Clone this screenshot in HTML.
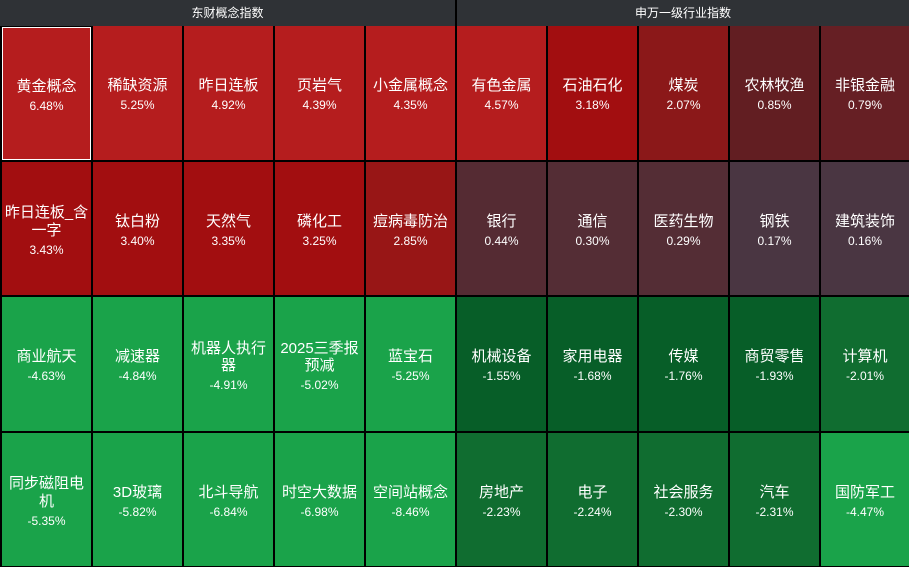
<!DOCTYPE html>
<html><head><meta charset="utf-8">
<style>
html,body{margin:0;padding:0;}
body{width:909px;height:567px;background:#000;position:relative;overflow:hidden;font-family:"Liberation Sans","Noto Sans CJK SC",sans-serif;color:#fff;}
.hd{position:absolute;top:0;height:26px;background:#2f3236;font-size:12px;line-height:26px;text-align:center;}
.c{position:absolute;display:flex;flex-direction:column;justify-content:center;align-items:center;text-align:center;box-sizing:border-box;padding:6px 2px 0 2px;}
.n{font-size:15px;line-height:17.5px;word-break:break-all;}
.p{font-size:12px;line-height:17.5px;margin-top:2.5px;}
.sel{border:1px solid #fff;}
</style></head><body>
<div class="hd" style="left:0;width:455px;">东财概念指数</div>
<div class="hd" style="left:457px;width:452px;">申万一级行业指数</div>

<!-- Row 1 -->
<div class="c sel" style="left:2px;top:27px;width:89px;height:133px;background:#b51d1e;"><div class="n">黄金概念</div><div class="p">6.48%</div></div>
<div class="c" style="left:93px;top:26px;width:89px;height:134px;background:#b51d1e;"><div class="n">稀缺资源</div><div class="p">5.25%</div></div>
<div class="c" style="left:184px;top:26px;width:89px;height:134px;background:#b51d1e;"><div class="n">昨日连板</div><div class="p">4.92%</div></div>
<div class="c" style="left:275px;top:26px;width:89px;height:134px;background:#b51d1e;"><div class="n">页岩气</div><div class="p">4.39%</div></div>
<div class="c" style="left:366px;top:26px;width:89px;height:134px;background:#b51d1e;"><div class="n">小金属概念</div><div class="p">4.35%</div></div>
<div class="c" style="left:457px;top:26px;width:89px;height:134px;background:#b51d1e;"><div class="n">有色金属</div><div class="p">4.57%</div></div>
<div class="c" style="left:548px;top:26px;width:89px;height:134px;background:#a20e10;"><div class="n">石油石化</div><div class="p">3.18%</div></div>
<div class="c" style="left:639px;top:26px;width:89px;height:134px;background:#8b1819;"><div class="n">煤炭</div><div class="p">2.07%</div></div>
<div class="c" style="left:730px;top:26px;width:89px;height:134px;background:#621e22;"><div class="n">农林牧渔</div><div class="p">0.85%</div></div>
<div class="c" style="left:821px;top:26px;width:88px;height:134px;background:#661f24;"><div class="n">非银金融</div><div class="p">0.79%</div></div>

<!-- Row 2 -->
<div class="c" style="left:2px;top:162px;width:89px;height:133px;background:#a20e10;"><div class="n">昨日连板_含一字</div><div class="p">3.43%</div></div>
<div class="c" style="left:93px;top:162px;width:89px;height:133px;background:#a20e10;"><div class="n">钛白粉</div><div class="p">3.40%</div></div>
<div class="c" style="left:184px;top:162px;width:89px;height:133px;background:#a20e10;"><div class="n">天然气</div><div class="p">3.35%</div></div>
<div class="c" style="left:275px;top:162px;width:89px;height:133px;background:#a20e10;"><div class="n">磷化工</div><div class="p">3.25%</div></div>
<div class="c" style="left:366px;top:162px;width:89px;height:133px;background:#981616;"><div class="n">痘病毒防治</div><div class="p">2.85%</div></div>
<div class="c" style="left:457px;top:162px;width:89px;height:133px;background:#552b33;"><div class="n">银行</div><div class="p">0.44%</div></div>
<div class="c" style="left:548px;top:162px;width:89px;height:133px;background:#542d35;"><div class="n">通信</div><div class="p">0.30%</div></div>
<div class="c" style="left:639px;top:162px;width:89px;height:133px;background:#542d35;"><div class="n">医药生物</div><div class="p">0.29%</div></div>
<div class="c" style="left:730px;top:162px;width:89px;height:133px;background:#4a3642;"><div class="n">钢铁</div><div class="p">0.17%</div></div>
<div class="c" style="left:821px;top:162px;width:88px;height:133px;background:#4a3642;"><div class="n">建筑装饰</div><div class="p">0.16%</div></div>

<!-- Row 3 -->
<div class="c" style="left:2px;top:297px;width:89px;height:134px;background:#1aa34a;"><div class="n">商业航天</div><div class="p">-4.63%</div></div>
<div class="c" style="left:93px;top:297px;width:89px;height:134px;background:#1aa34a;"><div class="n">减速器</div><div class="p">-4.84%</div></div>
<div class="c" style="left:184px;top:297px;width:89px;height:134px;background:#1aa34a;"><div class="n">机器人执行器</div><div class="p">-4.91%</div></div>
<div class="c" style="left:275px;top:297px;width:89px;height:134px;background:#1aa34a;"><div class="n">2025三季报预减</div><div class="p">-5.02%</div></div>
<div class="c" style="left:366px;top:297px;width:89px;height:134px;background:#1aa34a;"><div class="n">蓝宝石</div><div class="p">-5.25%</div></div>
<div class="c" style="left:457px;top:297px;width:89px;height:134px;background:#075e28;"><div class="n">机械设备</div><div class="p">-1.55%</div></div>
<div class="c" style="left:548px;top:297px;width:89px;height:134px;background:#075e28;"><div class="n">家用电器</div><div class="p">-1.68%</div></div>
<div class="c" style="left:639px;top:297px;width:89px;height:134px;background:#075e28;"><div class="n">传媒</div><div class="p">-1.76%</div></div>
<div class="c" style="left:730px;top:297px;width:89px;height:134px;background:#075e28;"><div class="n">商贸零售</div><div class="p">-1.93%</div></div>
<div class="c" style="left:821px;top:297px;width:88px;height:134px;background:#106d30;"><div class="n">计算机</div><div class="p">-2.01%</div></div>

<!-- Row 4 -->
<div class="c" style="left:2px;top:433px;width:89px;height:133px;background:#1aa34a;"><div class="n">同步磁阻电机</div><div class="p">-5.35%</div></div>
<div class="c" style="left:93px;top:433px;width:89px;height:133px;background:#1aa34a;"><div class="n">3D玻璃</div><div class="p">-5.82%</div></div>
<div class="c" style="left:184px;top:433px;width:89px;height:133px;background:#1aa34a;"><div class="n">北斗导航</div><div class="p">-6.84%</div></div>
<div class="c" style="left:275px;top:433px;width:89px;height:133px;background:#1aa34a;"><div class="n">时空大数据</div><div class="p">-6.98%</div></div>
<div class="c" style="left:366px;top:433px;width:89px;height:133px;background:#1aa34a;"><div class="n">空间站概念</div><div class="p">-8.46%</div></div>
<div class="c" style="left:457px;top:433px;width:89px;height:133px;background:#106d30;"><div class="n">房地产</div><div class="p">-2.23%</div></div>
<div class="c" style="left:548px;top:433px;width:89px;height:133px;background:#106d30;"><div class="n">电子</div><div class="p">-2.24%</div></div>
<div class="c" style="left:639px;top:433px;width:89px;height:133px;background:#106d30;"><div class="n">社会服务</div><div class="p">-2.30%</div></div>
<div class="c" style="left:730px;top:433px;width:89px;height:133px;background:#106d30;"><div class="n">汽车</div><div class="p">-2.31%</div></div>
<div class="c" style="left:821px;top:433px;width:88px;height:133px;background:#1aa34a;"><div class="n">国防军工</div><div class="p">-4.47%</div></div>
</body></html>
